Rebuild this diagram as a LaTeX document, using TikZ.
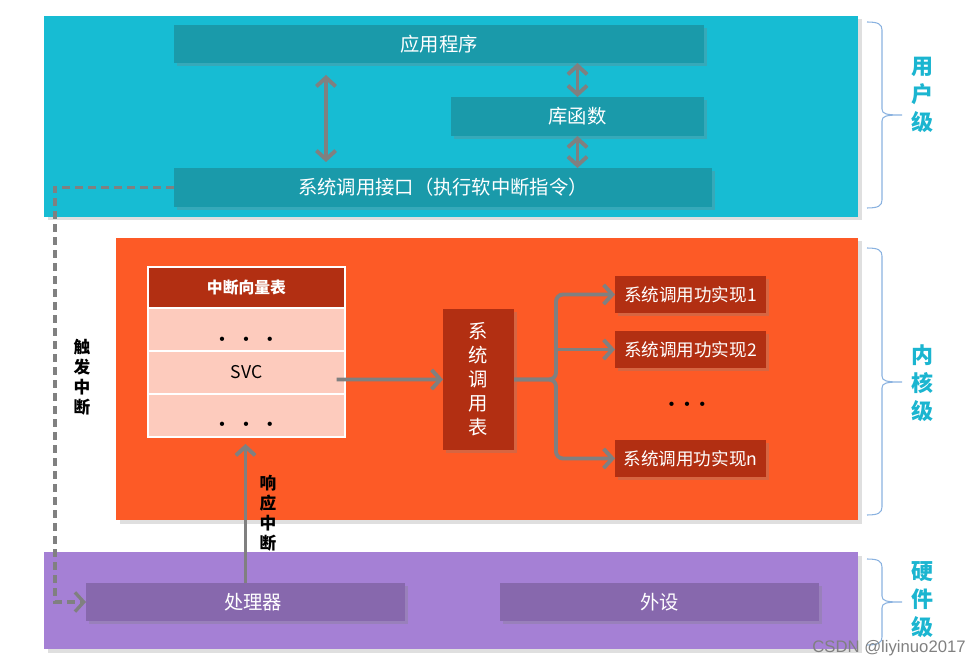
\documentclass[tikz,border=0pt]{standalone}
\usepackage{fontspec}
\setmainfont{Noto Sans CJK SC}
\newfontfamily\wmfont{Liberation Sans}
\usetikzlibrary{arrows.meta,shadows}
\definecolor{userbg}{HTML}{17BCD3}
\definecolor{userbox}{HTML}{1A9AAA}
\definecolor{kernbg}{HTML}{FD5A26}
\definecolor{kerndark}{HTML}{B22F12}
\definecolor{vtrow}{HTML}{FDCBBD}
\definecolor{hwbg}{HTML}{A580D5}
\definecolor{hwbox}{HTML}{8768AD}
\definecolor{arrgray}{HTML}{808080}
\definecolor{lvltext}{HTML}{1BB5D0}
\definecolor{bracec}{HTML}{8AB2E0}

\begin{document}
\begin{tikzpicture}[x=0.02cm,y=-0.02cm,
  sz/.style 2 args={minimum width=#1*0.02cm,minimum height=#2*0.02cm,inner sep=0pt,outer sep=0pt},
  panel/.style={drop shadow={shadow xshift=0.07cm,shadow yshift=-0.07cm,opacity=0.25}},
  shd/.style={drop shadow={shadow xshift=0.05cm,shadow yshift=-0.06cm,opacity=0.3}},
  ubox/.style={shd,fill=userbox,text=white,font=\fontsize{11}{13}\selectfont},
  kbox/.style={shd,fill=kerndark,text=white,font=\fontsize{10}{12}\selectfont},
  hbox/.style={shd,fill=hwbox,text=white,font=\fontsize{11}{13}\selectfont},
  vrow/.style={fill=vtrow,draw=white,line width=1.5pt},
  arr/.style={draw=arrgray,line width=2.2pt,-{Straight Barb[length=5pt,width=11pt]}},
  darr/.style={arr,{Straight Barb[length=5pt,width=11pt]}-{Straight Barb[length=5pt,width=11pt]}},
  lvl/.style={text=lvltext,align=center,font=\bfseries\fontsize{12.5}{16}\selectfont},
  vlbl/.style={align=center,font=\bfseries\fontsize{9.5}{11.3}\selectfont},
  brc/.style={draw=bracec,line width=0.6pt}]
\useasboundingbox (0,0) rectangle (980,668);

% three levels
\node (user) [panel,fill=userbg,sz={814}{201}] at (451,116.5) {};
\node (kern) [panel,fill=kernbg,sz={742}{282}] at (487,379) {};
\node (hw) [panel,fill=hwbg,sz={814}{97}] at (451,600.5) {};

% user level
\node (app) [ubox,sz={530}{38}] at (439,44) {应用程序};
\node (lib) [ubox,sz={253}{39}] at (577.5,116.5) {库函数};
\node (sysif) [ubox,sz={538}{39}] at (443,187.5) {系统调用接口（执行软中断指令）};

% kernel level
\node (vthead) [vrow,fill=kerndark,text=white,sz={197}{41},font=\bfseries\fontsize{9}{11}\selectfont] at (246.5,287.5) {中断向量表};
\node (vt1) [vrow,sz={197}{43}] at (246.5,329.5) {};
\node (svc) [vrow,sz={197}{43},font=\fontsize{10}{12}\selectfont] at (246.5,372.5) {SVC};
\node (vt3) [vrow,sz={197}{43}] at (246.5,415.5) {};
\node (dots1) at (246,339) {\tiny$\bullet$\hspace{0.35cm}$\bullet$\hspace{0.35cm}$\bullet$};
\node (dots3) at (246,424) {\tiny$\bullet$\hspace{0.35cm}$\bullet$\hspace{0.35cm}$\bullet$};
\node (tbl) [kbox,sz={71}{141},align=center,font=\fontsize{11}{13.6}\selectfont] at (478.5,379.5) {系\\统\\调\\用\\表};
\node (impl1) [kbox,sz={151}{37}] at (690.5,294.5) {系统调用功实现1};
\node (impl2) [kbox,sz={151}{37}] at (690.5,349.5) {系统调用功实现2};
\node (impln) [kbox,sz={151}{37}] at (690.5,458.5) {系统调用功实现n};
\node (dots4) at (687,404) {\tiny$\bullet$\hspace{0.18cm}$\bullet$\hspace{0.18cm}$\bullet$};

% hardware level
\node (proc) [hbox,sz={319}{38}] at (245.5,602) {\hspace{0.3cm}处理器};
\node (dev) [hbox,sz={319}{38}] at (659.5,602) {外设};

% connectors
\coordinate (ax) at (326,0);
\draw[darr,shorten <=0.24cm,shorten >=0.12cm] (app.south -| ax) -- (sysif.north -| ax);
\draw[darr] (app.south -| lib) -- (lib.north);
\draw[darr] (lib.south) -- (sysif.north -| lib);
\draw[arr] ([xshift=-0.17cm,yshift=-0.14cm]svc.east) -- (tbl.west);
\coordinate (fork) at (556,379.5);
\draw[arr,rounded corners=0.14cm] (tbl.east) -- (fork) |- (impl1.west);
\draw[arr,rounded corners=0.14cm] (tbl.east) -- (fork) |- (impln.west);
\draw[arr] (fork |- impl2.west) -- (impl2.west);
\draw[arr,shorten >=0.14cm] (proc.north) -- (proc.north |- vt3.south);
\coordinate (trig) at (55,602);
\draw[arr,line width=1.9pt,dash pattern=on 0.16cm off 0.1cm] (sysif.west) -| (trig) -- (proc.west);

\node (trg) [vlbl] at (82,377) {触\\发\\中\\断};
\node (rsp) [vlbl] at (268,513) {响\\应\\中\\断};

% braces and level names
\foreach \t/\m/\b in {22/115/208,248/382/515,559/602/645}
  \draw[brc] (867,\t) .. controls (878,\t) and (882,\t+2) .. (882,\t+8) -- (882,\m-6)
    .. controls (882,\m-1) and (886,\m) .. (902,\m)
    .. controls (886,\m) and (882,\m+1) .. (882,\m+6) -- (882,\b-8)
    .. controls (882,\b-2) and (878,\b) .. (867,\b);
\node (lvu) [lvl] at (922,95) {用\\户\\级};
\node (lvk) [lvl] at (922,383) {内\\核\\级};
\node (lvh) [lvl] at (922,600) {硬\\件\\级};

\node (wm) [text=gray,font=\wmfont\fontsize{9.5}{11}\selectfont] at (889,648) {CSDN @liyinuo2017};
\end{tikzpicture}
\end{document}
